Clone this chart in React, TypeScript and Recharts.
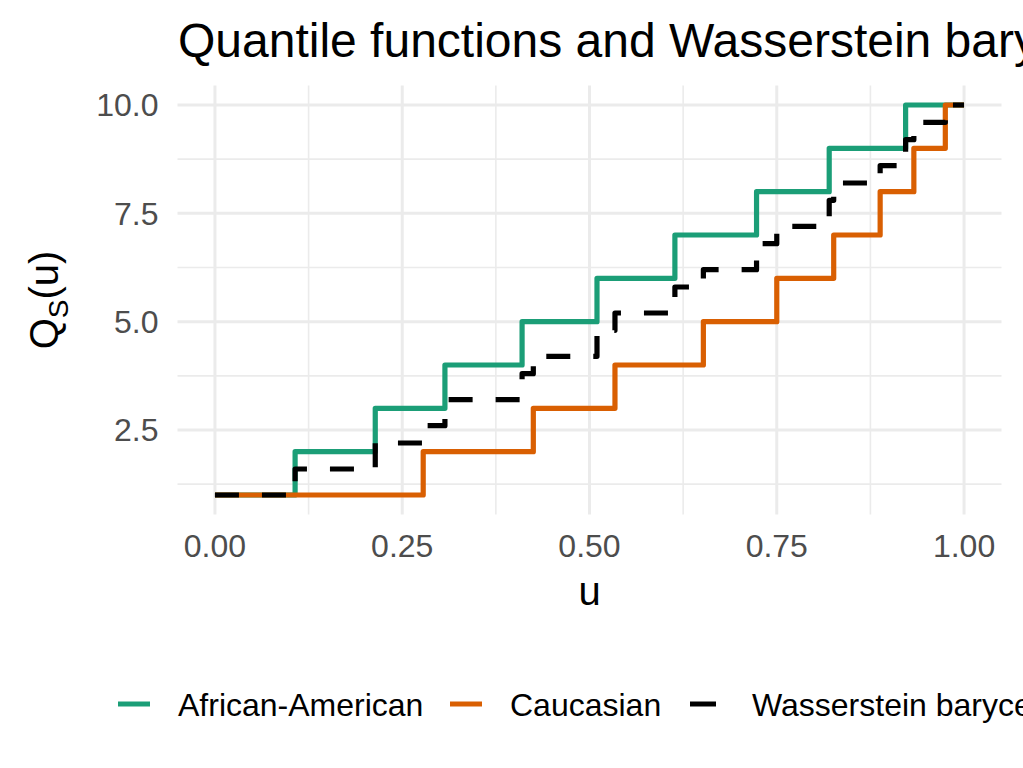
import React from 'react';
import { LineChart, Line, XAxis, YAxis, CartesianGrid } from 'recharts';

// ---- data ----
const africanAmericanU = [0, 0.107, 0.214, 0.307, 0.41, 0.51, 0.614, 0.723, 0.82, 0.922, 1];
const africanAmericanQ = [1, 2, 3, 4, 5, 6, 7, 8, 9, 10, 10];

const caucasianU = [0, 0.278, 0.425, 0.534, 0.652, 0.75, 0.826, 0.888, 0.933, 0.975, 1];
const caucasianQ = [1, 2, 3, 4, 5, 6, 7, 8, 9, 10, 10];

const baryU = [0, 0.107, 0.214, 0.278, 0.307, 0.41, 0.425, 0.51, 0.534, 0.614, 0.652, 0.723, 0.75, 0.82, 0.826, 0.888, 0.922, 0.933, 0.975, 1];
const baryQ = [1, 1.6, 2.2, 2.6, 3.2, 3.8, 4.2, 4.8, 5.2, 5.8, 6.2, 6.8, 7.2, 7.8, 8.2, 8.6, 9.2, 9.6, 10, 10];

const xTicks = [0, 0.25, 0.5, 0.75, 1];
const yTicks = [2.5, 5, 7.5, 10];
const xMinor = [0.125, 0.375, 0.625, 0.875];
const yMinor = [1.25, 3.75, 6.25, 8.75];
const xDomain: [number, number] = [-0.05, 1.05];
const yDomain: [number, number] = [0.55, 10.45];

const title = 'Quantile functions and Wasserstein barycenter';
const xLabel = 'u';
const legendItems = [
  { name: 'African-American', color: '#1B9E77', dashed: false },
  { name: 'Caucasian', color: '#D95F02', dashed: false },
  { name: 'Wasserstein barycenter', color: '#000000', dashed: true },
];

const toRows = (us: number[], qs: number[]) => us.map((u, i) => ({ u, q: qs[i] }));
const aaData = toRows(africanAmericanU, africanAmericanQ);
const caData = toRows(caucasianU, caucasianQ);
const baryData = toRows(baryU, baryQ);

const FONT = '"Liberation Sans", Arial, Helvetica, sans-serif';
const W = 1023;
const H = 768;
const LW = 5.2;

const mapX = (p: any, v: number) => {
  const s = p?.xAxis?.scale;
  if (typeof s === 'function') return s(v);
  const o = p.offset;
  return o.left + ((v - xDomain[0]) / (xDomain[1] - xDomain[0])) * o.width;
};
const mapY = (p: any, v: number) => {
  const s = p?.yAxis?.scale;
  if (typeof s === 'function') return s(v);
  const o = p.offset;
  return o.top + (1 - (v - yDomain[0]) / (yDomain[1] - yDomain[0])) * o.height;
};

export default function App() {
  const legendX = [118, 450, 690];
  return (
    <div style={{ position: 'absolute', left: 0, top: 0, width: W, height: H, overflow: 'hidden', background: '#fff' }}>
      <LineChart
        width={W}
        height={H}
        margin={{ top: 85.5, right: 21.5, bottom: 193.5, left: 0 }}
        style={{ fontFamily: FONT }}
      >
        <CartesianGrid
          stroke="#EBEBEB"
          strokeWidth={1.6}
          syncWithTicks
          verticalCoordinatesGenerator={(p: any) => xMinor.map((v) => mapX(p, v))}
          horizontalCoordinatesGenerator={(p: any) => yMinor.map((v) => mapY(p, v))}
        />
        <CartesianGrid stroke="#EBEBEB" strokeWidth={3} syncWithTicks />
        <XAxis
          dataKey="u"
          type="number"
          domain={xDomain}
          ticks={xTicks}
          allowDataOverflow
          tickFormatter={(v: number) => v.toFixed(2)}
          axisLine={false}
          tickLine={false}
          tickSize={0}
          tickMargin={20}
          height={60}
          tick={{ fontSize: 32, fill: '#4D4D4D', fontFamily: FONT }}
        />
        <YAxis
          type="number"
          domain={yDomain}
          ticks={yTicks}
          allowDataOverflow
          tickFormatter={(v: number) => v.toFixed(1)}
          axisLine={false}
          tickLine={false}
          tickSize={0}
          tickMargin={19}
          width={177.5}
          tick={{ fontSize: 32, fill: '#4D4D4D', fontFamily: FONT }}
        />
        <Line
          data={aaData}
          dataKey="q"
          type="stepAfter"
          stroke="#1B9E77"
          strokeWidth={LW}
          strokeLinejoin="round"
          dot={false}
          activeDot={false}
          isAnimationActive={false}
        />
        <Line
          data={caData}
          dataKey="q"
          type="stepAfter"
          stroke="#D95F02"
          strokeWidth={LW}
          strokeLinejoin="round"
          dot={false}
          activeDot={false}
          isAnimationActive={false}
        />
        <Line
          data={baryData}
          dataKey="q"
          type="stepAfter"
          stroke="#000000"
          strokeWidth={LW}
          strokeDasharray="24 23"
          strokeLinejoin="round"
          dot={false}
          activeDot={false}
          isAnimationActive={false}
        />
      </LineChart>
      <svg
        width={W}
        height={H}
        style={{ position: 'absolute', left: 0, top: 0, pointerEvents: 'none', fontFamily: FONT }}
      >
        <text x={178} y={57} fontSize={48} fill="#000">{title}</text>
        <text x={589.5} y={605} fontSize={40} fill="#000" textAnchor="middle">{xLabel}</text>
        <text transform="translate(58,300) rotate(-90)" fontSize={40} fill="#000" textAnchor="middle">
          Q<tspan fontSize={28} dy={10}>S</tspan><tspan dy={-10}>(u)</tspan>
        </text>
        {legendItems.map((it, i) => (
          <g key={it.name}>
            <line
              x1={legendX[i]}
              x2={legendX[i] + (it.dashed ? 36 : 32)}
              y1={704}
              y2={704}
              stroke={it.color}
              strokeWidth={5}
              strokeDasharray={it.dashed ? '26 40' : undefined}
            />
            <text x={legendX[i] + (it.dashed ? 62 : 60)} y={715.5} fontSize={32} fill="#000">{it.name}</text>
          </g>
        ))}
      </svg>
    </div>
  );
}
